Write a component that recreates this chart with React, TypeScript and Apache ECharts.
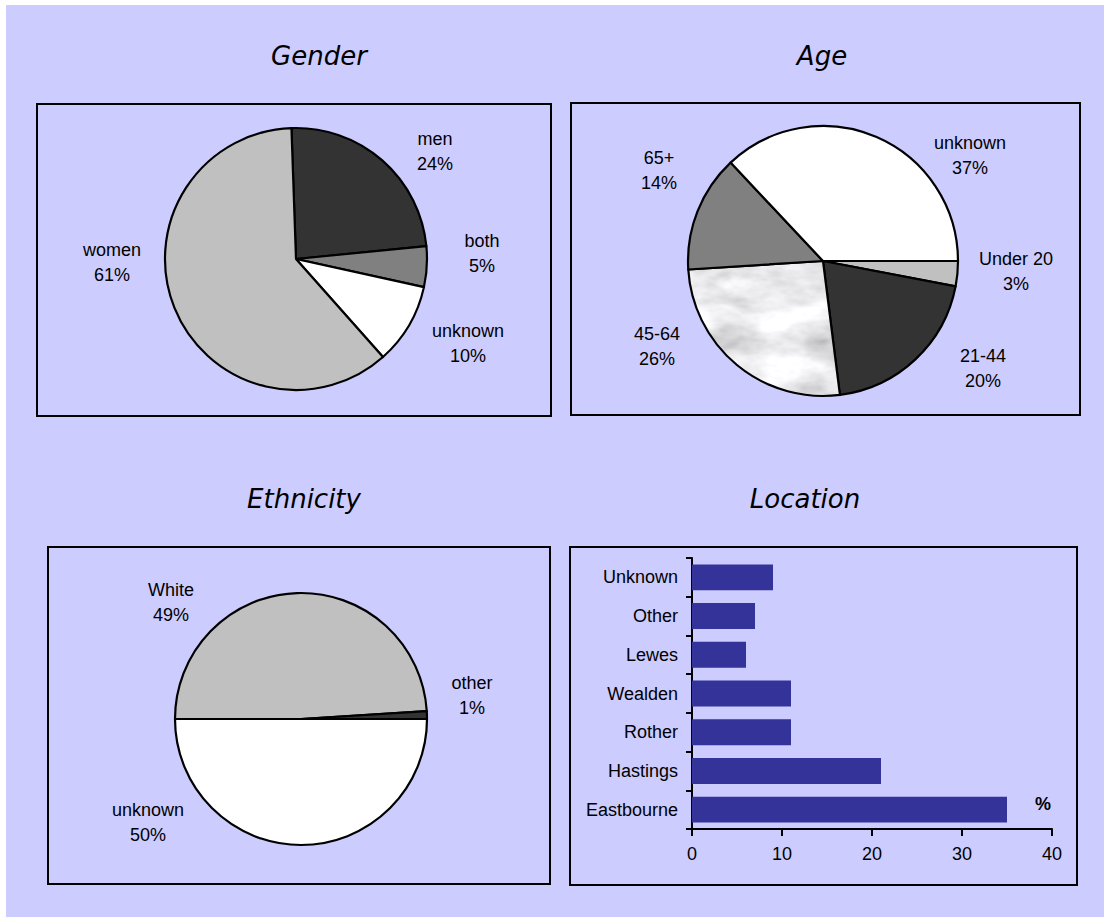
import React, { useEffect, useRef } from "react";
import * as echarts from "echarts";

// ---- Data ----
const genderNames = ["men", "both", "unknown", "women"];
const genderValues = [24, 5, 10, 61];

const ageNames = ["Under 20", "21-44", "45-64", "65+", "unknown"];
const ageValues = [3, 20, 26, 14, 37];

const ethnicityNames = ["White", "other", "unknown"];
const ethnicityValues = [49, 1, 50];

const locationNames = ["Unknown", "Other", "Lewes", "Wealden", "Rother", "Hastings", "Eastbourne"];
const locationValues = [9, 7, 6, 11, 11, 21, 35];

const locationTicks = { min: 0, max: 40, interval: 10 };

// ---- Styling ----
const BG = "#ccccff";
const LABEL_FONT = "'Liberation Sans', Arial, sans-serif";
const TITLE_FONT = "'DejaVu Sans', Verdana, sans-serif";

// Grey marble fill for the 45-64 slice, built from a seamless SVG turbulence filter.
const marbleSvg =
  "<svg xmlns='http://www.w3.org/2000/svg' width='400' height='400'>" +
  "<filter id='m' x='0' y='0' width='100%' height='100%'>" +
  "<feTurbulence type='fractalNoise' baseFrequency='0.02 0.04' numOctaves='4' seed='7' stitchTiles='stitch'/>" +
  "<feColorMatrix type='matrix' values='" +
  "0.8 0 0 0 0.43  0.8 0 0 0 0.43  0.8 0 0 0 0.45  0 0 0 0 1'/>" +
  "</filter>" +
  "<rect width='400' height='400' filter='url(#m)'/>" +
  "</svg>";
const marble = {
  image: "data:image/svg+xml;charset=utf-8," + encodeURIComponent(marbleSvg),
  repeat: "repeat",
};

const genderColors = ["#333333", "#808080", "#ffffff", "#c0c0c0"];
const ageColors = ["#c0c0c0", "#333333", marble, "#808080", "#ffffff"];
const ethnicityColors = ["#c0c0c0", "#333333", "#ffffff"];

type PieSpec = {
  names: string[];
  values: number[];
  colors: any[];
  center: [number, number];
  radius: number;
  startAngle: number;
  labelOffsets: [number, number][];
};

const pies: PieSpec[] = [
  {
    names: genderNames,
    values: genderValues,
    colors: genderColors,
    center: [290, 254],
    radius: 131,
    startAngle: 92,
    labelOffsets: [[139, -108], [186, -6], [172, 84], [-184, 3]],
  },
  {
    names: ageNames,
    values: ageValues,
    colors: ageColors,
    center: [817, 256],
    radius: 135,
    startAngle: 0,
    labelOffsets: [[193, 10], [160, 107], [-166, 85], [-164, -91], [147, -106]],
  },
  {
    names: ethnicityNames,
    values: ethnicityValues,
    colors: ethnicityColors,
    center: [295, 714],
    radius: 126,
    startAngle: 180,
    labelOffsets: [[-130, -117], [171, -24], [-153, 103]],
  },
];

const panels = [
  { x: 31, y: 99, w: 514, h: 312 },
  { x: 565, y: 98, w: 509, h: 312 },
  { x: 42, y: 542, w: 502, h: 337 },
  { x: 564, y: 542, w: 507, h: 338 },
];

const titles = [
  { text: "Gender", x: 313, y: 51 },
  { text: "Age", x: 816, y: 51 },
  { text: "Ethnicity", x: 298, y: 494 },
  { text: "Location", x: 799, y: 494 },
];

function pieSeries(p: PieSpec) {
  return {
    type: "pie",
    center: p.center,
    radius: p.radius,
    startAngle: p.startAngle,
    clockwise: true,
    avoidLabelOverlap: false,
    silent: true,
    itemStyle: { borderColor: "#000", borderWidth: 2.2 },
    label: {
      show: true,
      position: "outside",
      formatter: (params: any) => `${params.name}\n${params.value}%`,
      fontFamily: LABEL_FONT,
      fontSize: 18,
      lineHeight: 25,
      color: "#000",
      align: "center",
    },
    labelLine: { show: false },
    labelLayout: (params: any) => {
      const off = p.labelOffsets[params.dataIndex];
      return {
        x: p.center[0] + off[0],
        y: p.center[1] + off[1],
        align: "center",
        verticalAlign: "middle",
      };
    },
    data: p.names.map((name, i) => ({
      name,
      value: p.values[i],
      itemStyle: { color: p.colors[i] },
    })),
  };
}

export default function App() {
  const ref = useRef<HTMLDivElement>(null);

  useEffect(() => {
    if (!ref.current) return;
    const chart = echarts.init(ref.current, undefined, { renderer: "svg" });

    const option: any = {
      animation: false,
      backgroundColor: BG,
      graphic: [
        ...panels.map((b) => ({
          type: "rect",
          shape: { x: b.x, y: b.y, width: b.w, height: b.h },
          style: { fill: "none", stroke: "#000", lineWidth: 2 },
          silent: true,
          z: 0,
        })),
        ...titles.map((t) => ({
          type: "text",
          x: t.x,
          y: t.y,
          style: {
            text: t.text,
            fontFamily: TITLE_FONT,
            fontSize: 26,
            fontStyle: "italic",
            fill: "#000",
            textAlign: "center",
            textVerticalAlign: "middle",
          },
          silent: true,
        })),
        // unit marker above the end of the Location value axis
        {
          type: "text",
          x: 1037,
          y: 799,
          style: {
            text: "%",
            fontFamily: LABEL_FONT,
            fontSize: 18,
            fontWeight: "bold",
            fill: "#000",
            textAlign: "center",
            textVerticalAlign: "middle",
          },
          silent: true,
        },
      ],
      grid: { left: 686, top: 553, width: 360, height: 271, containLabel: false },
      xAxis: {
        type: "value",
        min: locationTicks.min,
        max: locationTicks.max,
        interval: locationTicks.interval,
        axisLine: { show: true, lineStyle: { color: "#000", width: 2 } },
        axisTick: { show: true, length: 7, lineStyle: { color: "#000", width: 2 } },
        axisLabel: { fontFamily: LABEL_FONT, fontSize: 18, color: "#000", margin: 16 },
        splitLine: { show: false },
      },
      yAxis: {
        type: "category",
        data: locationNames,
        inverse: true,
        axisLine: { show: true, lineStyle: { color: "#000", width: 2 } },
        axisTick: { show: true, length: 6, lineStyle: { color: "#000", width: 2 } },
        axisLabel: { fontFamily: LABEL_FONT, fontSize: 18, color: "#000", margin: 14 },
        splitLine: { show: false },
      },
      series: [
        ...pies.map(pieSeries),
        {
          type: "bar",
          data: locationValues,
          barCategoryGap: "33%",
          itemStyle: { color: "#333399" },
          silent: true,
        },
      ],
    };

    chart.setOption(option);
    return () => chart.dispose();
  }, []);

  return (
    <div
      ref={ref}
      style={{ position: "fixed", left: 6, top: 5, width: 1098, height: 912 }}
    />
  );
}
